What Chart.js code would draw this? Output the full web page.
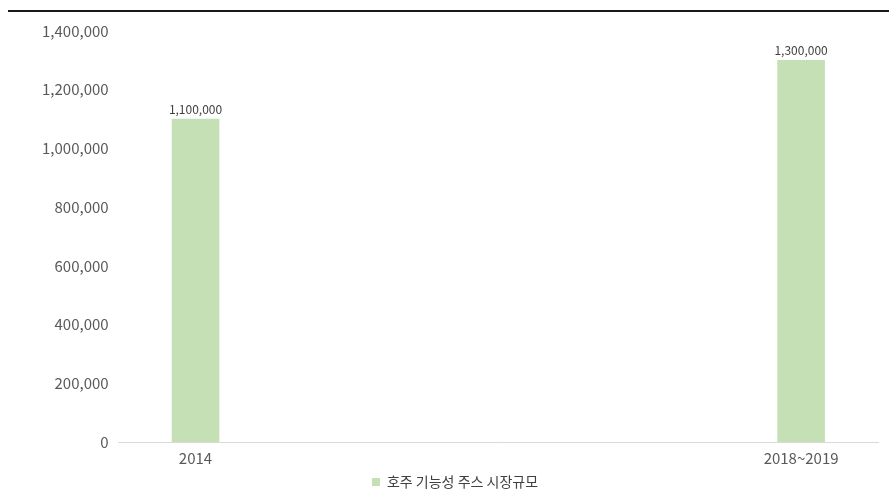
<!DOCTYPE html>
<html>
<head>
<meta charset="utf-8">
<script src="https://cdn.jsdelivr.net/npm/chart.js@4"></script>
<style>
    body { margin: 0; background: #fff; }
    #wrap { width: 889px; height: 491px; }
</style>
</head>
<body>
<div id="wrap"><canvas id="bar-canvas" width="889" height="491"></canvas></div>
<script>
var categories = ['2014', '2018~2019'];
var marketSize = [1100000, 1300000];
var seriesName = '호주 기능성 주스 시장규모';
var yTicks = [0, 200000, 400000, 600000, 800000, 1000000, 1200000, 1400000];

var font = '"Noto Sans CJK KR", "Noto Sans", sans-serif';

function fmt(v) {
    return v.toLocaleString('en-US');
}

// black rule on top + value labels above bars
var extras = {
    id: 'extras',
    afterDraw: function (chart) {
        var ctx = chart.ctx;
        ctx.save();
        ctx.strokeStyle = '#1a1a1a';
        ctx.lineWidth = 2;
        ctx.beginPath();
        ctx.moveTo(8, 11);
        ctx.lineTo(chart.width, 11);
        ctx.stroke();

        ctx.fillStyle = '#404040';
        ctx.font = '12px ' + font;
        ctx.textAlign = 'center';
        ctx.textBaseline = 'bottom';
        var meta = chart.getDatasetMeta(0);
        meta.data.forEach(function (bar, i) {
            ctx.fillText(fmt(marketSize[i]), bar.x, bar.y - 4);
        });
        ctx.restore();
    }
};

var barConfig = {
    type: 'bar',
    data: {
        labels: categories,
        datasets: [{
            label: seriesName,
            data: marketSize,
            backgroundColor: '#c5e0b4',
            barThickness: 47
        }]
    },
    plugins: [extras],
    options: {
        responsive: false,
        animation: false,
        layout: { padding: { top: 31, right: 11, left: 32, bottom: -8 } },
        plugins: {
            tooltip: { enabled: false },
            legend: {
                position: 'bottom',
                labels: {
                    boxWidth: 8,
                    boxHeight: 8,
                    padding: 0,
                    color: '#404040',
                    font: { family: font, size: 14, lineHeight: 1 }
                }
            }
        },
        scales: {
            x: {
                offset: false,
                grid: { display: false, drawTicks: false },
                border: { color: '#d9d9d9', width: 1 },
                ticks: { color: '#595959', padding: 9, font: { family: font, size: 15, lineHeight: 1 } },
                afterBuildTicks: function (scale) {
                    // keep the bars in from the axis ends
                    scale._startValue = -0.127;
                    scale._valueRange = 1.254;
                }
            },
            y: {
                min: 0,
                max: 1400000,
                afterBuildTicks: function (scale) {
                    scale.ticks = yTicks.map(function (v) { return { value: v }; });
                },
                grid: { display: false, drawTicks: false },
                border: { display: false },
                ticks: {
                    color: '#595959',
                    padding: 10,
                    font: { family: font, size: 15 },
                    callback: function (v) { return fmt(v); }
                }
            }
        }
    }
};

var ctx = document.getElementById('bar-canvas').getContext('2d');
window.myBar = new Chart(ctx, barConfig);
</script>
</body>
</html>
